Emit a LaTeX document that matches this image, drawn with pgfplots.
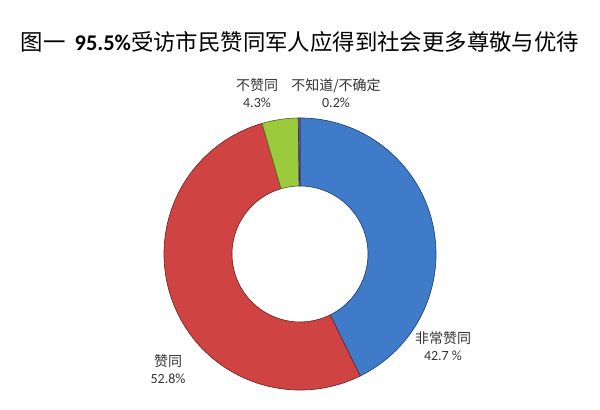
\documentclass[border=0pt]{standalone}
\usepackage{fontspec}
\setmainfont{Carlito}
\newfontfamily\cjk{Noto Sans CJK SC}
\usepackage{pgfplots}
\usepackage{pgfplotstable}
\pgfplotsset{compat=1.18}

\definecolor{sliceblue}{HTML}{3F7BC8}
\definecolor{slicered}{HTML}{D04343}
\definecolor{slicegreen}{HTML}{9BCB3C}
\definecolor{slicepurple}{HTML}{7B5CA0}

% share of respondents, clockwise from 12 o'clock
\pgfplotstableread{
value colour
42.7  sliceblue
52.8  slicered
4.3   slicegreen
0.2   slicepurple
}\donutdata

\begin{document}
\begin{tikzpicture}
\begin{axis}[
    x=0.75pt, y=0.75pt,
    xmin=0, xmax=600, ymin=0, ymax=407,
    hide axis,
    clip=false,
]
\path (axis cs:0,0) rectangle (axis cs:600,407);
\pgfplotsextra{
  \def\Rout{102pt}\def\Rin{51pt}
  \xdef\cum{0}
  \pgfplotstablegetrowsof{\donutdata}
  \pgfmathtruncatemacro\last{\pgfplotsretval-1}
  \foreach \i in {0,...,\last}{
    \pgfplotstablegetelem{\i}{value}\of\donutdata \let\v\pgfplotsretval
    \pgfplotstablegetelem{\i}{colour}\of\donutdata \let\slicecol\pgfplotsretval
    \pgfmathsetmacro\aa{90-3.6*\cum}
    \pgfmathsetmacro\ab{90-3.6*(\cum+\v)}
    \fill[\slicecol, draw=\slicecol!55!black, line width=0.5pt]
      ([shift={(\aa:\Rout)}]axis cs:300,153)
      arc[start angle=\aa, end angle=\ab, radius=\Rout]
      -- ([shift={(\ab:\Rin)}]axis cs:300,153)
      arc[start angle=\ab, end angle=\aa, radius=\Rin] -- cycle;
    \pgfmathsetmacro\cumnew{\cum+\v}
    \xdef\cum{\cumnew}
  }
}
\node[font=\fontsize{16.8}{19}\selectfont] at (axis cs:300,365)
  {{\cjk 图一}\hspace{0.4em}\textbf{95.5\%}{\cjk 受访市民赞同军人应得到社会更多尊敬与优待}};
\tikzset{lbl/.style={font=\fontsize{10.5}{13}\selectfont, align=center, text=black!80}}
\node[lbl] at (axis cs:257,314) {{\cjk 不赞同}\\4.3\%};
\node[lbl] at (axis cs:336,314) {{\cjk 不知道/不确定}\\0.2\%};
\node[lbl] at (axis cs:443,61) {{\cjk 非常赞同}\\42.7 \%};
\node[lbl] at (axis cs:168,38) {{\cjk 赞同}\\52.8\%};
\end{axis}
\end{tikzpicture}
\end{document}
